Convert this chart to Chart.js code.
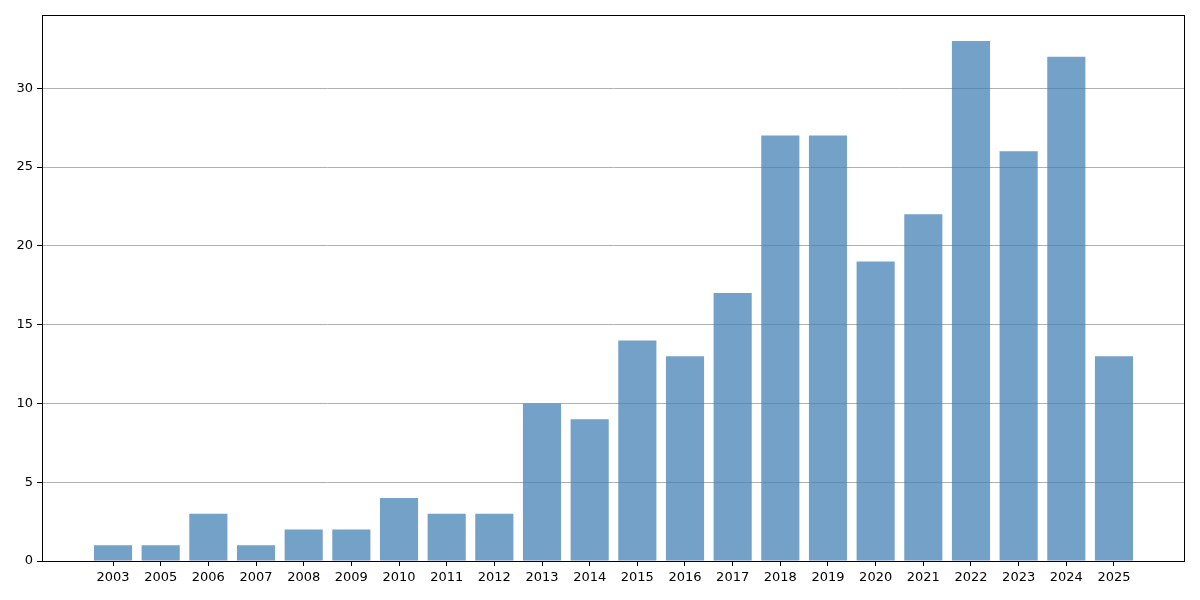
<!DOCTYPE html>
<html>
<head>
<meta charset="utf-8">
<script src="https://cdn.jsdelivr.net/npm/chart.js@4"></script>
<style>
  html, body { margin: 0; padding: 0; background: #fff; }
  #wrap { width: 1200px; height: 600px; }
</style>
</head>
<body>
<div id="wrap"><canvas id="chart" width="1200" height="600"></canvas></div>
<script>
const years = ['2003', '2005', '2006', '2007', '2008', '2009', '2010', '2011', '2012', '2013', '2014',
  '2015', '2016', '2017', '2018', '2019', '2020', '2021', '2022', '2023', '2024', '2025'];
const counts = [1, 1, 3, 1, 2, 2, 4, 3, 3, 10, 9, 14, 13, 17, 27, 27, 19, 22, 33, 26, 32, 13];
const yTicks = [0, 5, 10, 15, 20, 25, 30];

// matplotlib-like margins: 5% of the data span on each side
const xMin = -0.4 - 0.05 * (years.length - 1 + 0.8);
const xMax = years.length - 1 + 0.4 + 0.05 * (years.length - 1 + 0.8);
const yMax = Math.max(...counts) * 1.05;

const frame = {
  id: 'frame',
  afterDraw(chart) {
    const { ctx, chartArea: a } = chart;
    ctx.save();
    ctx.strokeStyle = '#000';
    ctx.lineWidth = 1;
    ctx.strokeRect(a.left + 0.5, a.top + 0.5, a.right - a.left - 1, a.bottom - a.top);
    ctx.restore();
  }
};

const ctx = document.getElementById('chart').getContext('2d');
new Chart(ctx, {
  type: 'bar',
  data: {
    datasets: [{
      data: counts.map((v, i) => ({ x: i, y: v })),
      backgroundColor: 'rgba(70,130,180,0.75)',
      borderWidth: 0,
      barPercentage: 0.8,
      categoryPercentage: 1.0,
    }]
  },
  plugins: [frame],
  options: {
    responsive: false,
    animation: false,
    layout: { padding: { top: 15, right: 15, left: 0, bottom: 0 } },
    plugins: { legend: { display: false }, tooltip: { enabled: false } },
    scales: {
      x: {
        type: 'linear',
        min: xMin,
        max: xMax,
        offset: false,
        afterBuildTicks: s => { s.ticks = years.map((_, i) => ({ value: i })); },
        afterFit: s => { s.height = 39; },
        grid: { display: true, offset: false, drawOnChartArea: false, drawTicks: true, tickLength: 5, color: '#000', tickColor: '#000' },
        border: { display: false },
        ticks: {
          autoSkip: false, maxRotation: 0, padding: 4,
          color: '#000', font: { family: 'DejaVu Sans', size: 13 },
          callback: v => years[v]
        }
      },
      y: {
        min: 0,
        max: yMax,
        z: 1,
        afterBuildTicks: s => { s.ticks = yTicks.map(v => ({ value: v })); },
        afterFit: s => { s.width = 42; },
        grid: { color: '#b0b0b0', lineWidth: 1, tickLength: 5, tickColor: '#000' },
        border: { display: false },
        ticks: {
          padding: 4,
          color: '#000', font: { family: 'DejaVu Sans', size: 13 }
        }
      }
    }
  }
});
</script>
</body>
</html>
